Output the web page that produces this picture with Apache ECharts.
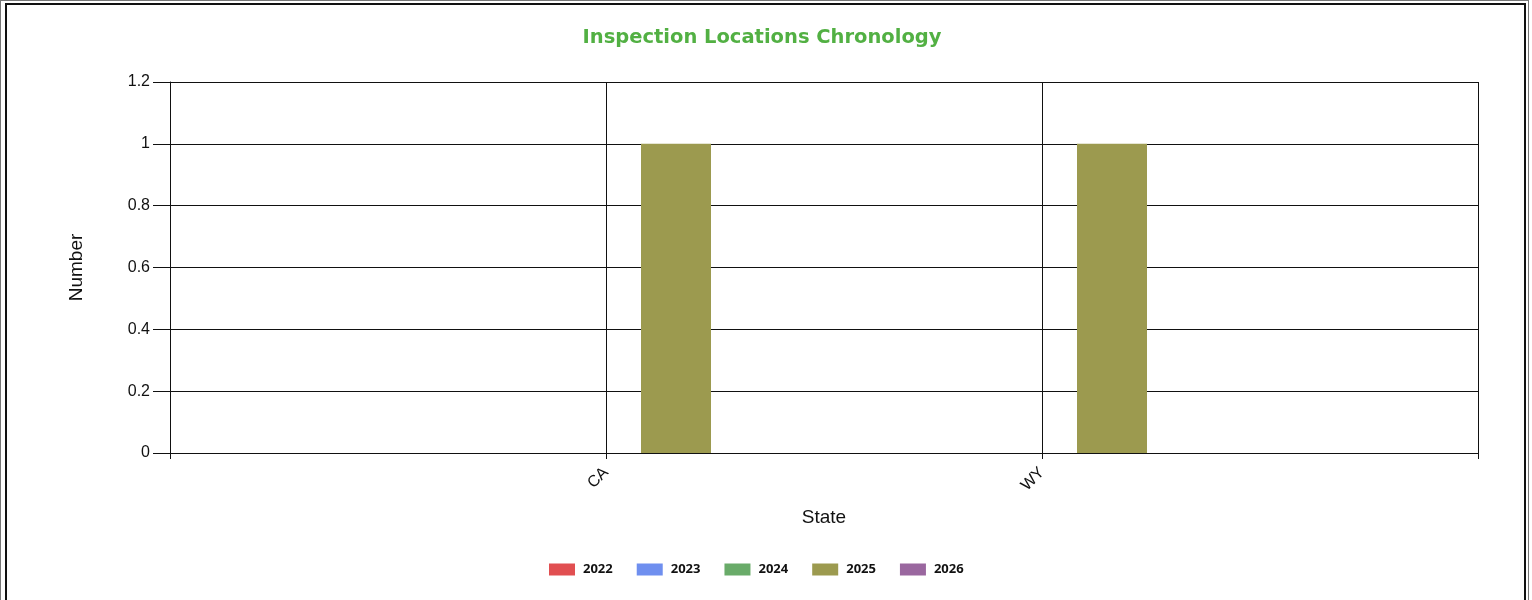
<!DOCTYPE html>
<html>
<head>
<meta charset="utf-8">
<title>Inspection Locations Chronology</title>
<script src="https://cdn.jsdelivr.net/npm/echarts@6/dist/echarts.min.js"></script>
<style>
  html, body { margin: 0; padding: 0; background: #fff; }
  #outer { position: absolute; left: 0; top: 0; width: 1527px; height: 620px; border: 1px solid #777; }
  #frame { position: absolute; left: 5px; top: 3px; width: 1517px; height: 620px; border: 2px solid #111; }
  #main { position: absolute; left: 0; top: 0; width: 1532px; height: 600px; }
</style>
</head>
<body>
<div id="outer"></div>
<div id="frame"></div>
<div id="main"></div>
<script>
// 数据
var states = ['', 'CA', 'WY', ' '];
var years = ['2022', '2023', '2024', '2025', '2026'];
var colors = ['#e14f51', '#6f8fef', '#69ab69', '#9c9a4f', '#9a679f'];
var counts = {
  '2022': [0, 0, 0, 0],
  '2023': [0, 0, 0, 0],
  '2024': [0, 0, 0, 0],
  '2025': [0, 1, 1, 0],
  '2026': [0, 0, 0, 0]
};
var yTicks = { min: 0, max: 1.2, interval: 0.2 };

var myChart = echarts.init(document.getElementById('main'));

var series = years.map(function (y, i) {
  return {
    name: y,
    type: 'bar',
    data: counts[y],
    barWidth: 70,
    barGap: '0%',
    itemStyle: { color: colors[i] }
  };
});

var lineColor = '#111';

var option = {
  animation: false,
  color: colors,
  title: {
    text: 'Inspection Locations Chronology',
    left: 757,
    textAlign: 'center',
    top: 23,
    textStyle: {
      color: '#52b043',
      fontFamily: 'DejaVu Sans',
      fontWeight: 'bold',
      fontSize: 19.5
    }
  },
  legend: {
    data: years,
    bottom: 19,
    left: 544,
    itemWidth: 26,
    itemHeight: 12,
    itemGap: 24,
    icon: 'rect',
    textStyle: {
      fontFamily: 'Open Sans',
      fontWeight: 'bold',
      fontSize: 13,
      color: '#111',
      padding: [0, 0, 0, 3]
    }
  },
  grid: {
    left: 170,
    right: 54,
    top: 82,
    bottom: 147
  },
  xAxis: {
    type: 'category',
    data: states,
    boundaryGap: false,
    name: 'State',
    nameLocation: 'middle',
    nameGap: 55,
    nameTextStyle: { fontFamily: 'Liberation Sans', fontSize: 19, color: '#111' },
    axisLine: { lineStyle: { color: lineColor, width: 1 } },
    axisTick: { show: true, length: 6, lineStyle: { color: lineColor } },
    axisLabel: {
      rotate: 45,
      margin: 17,
      fontFamily: 'Liberation Sans',
      fontSize: 16,
      color: '#111'
    },
    splitLine: { show: true, lineStyle: { color: lineColor, width: 1 } }
  },
  yAxis: {
    type: 'value',
    min: yTicks.min,
    max: yTicks.max,
    interval: yTicks.interval,
    name: 'Number',
    nameLocation: 'middle',
    nameGap: 84,
    nameTextStyle: { fontFamily: 'Liberation Sans', fontSize: 19, color: '#111' },
    axisLine: { show: true, lineStyle: { color: lineColor, width: 1 } },
    axisTick: { show: true, length: 17, lineStyle: { color: lineColor } },
    axisLabel: {
      margin: 20,
      fontFamily: 'Liberation Sans',
      fontSize: 16,
      color: '#111',
      formatter: function (v) { return String(Math.round(v * 10) / 10); }
    },
    splitLine: { show: true, lineStyle: { color: lineColor, width: 1 } }
  },
  series: series
};

myChart.setOption(option);
</script>
</body>
</html>
